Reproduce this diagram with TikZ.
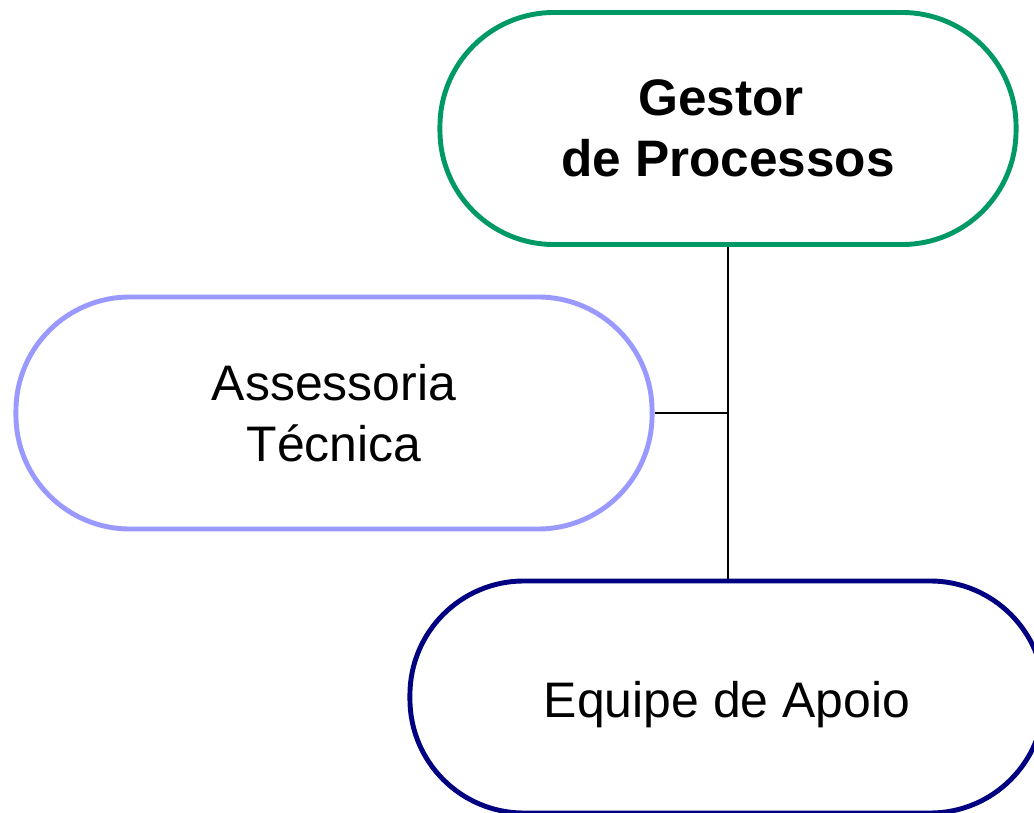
\documentclass[tikz,border=0pt]{standalone}
\usepackage{fontspec}
\setmainfont{Liberation Sans}
\usetikzlibrary{positioning,calc}

\definecolor{gestorgreen}{HTML}{009966}
\definecolor{assesslilac}{HTML}{9999FF}
\definecolor{apoionavy}{HTML}{000080}

\tikzset{
  pill/.style={draw, line width=3.5pt, fill=white, rounded corners=2.85cm,
               minimum height=5.8cm, align=center,
               font=\fontsize{35.5}{43}\selectfont},
  link/.style={draw, line width=1.3pt}
}

\begin{document}
\begin{tikzpicture}[x=0.025cm, y=-0.025cm]
        % keep the page the size of the reference
        \useasboundingbox (0,0) rectangle (1034,813);

        % the three boxes
        \node[pill, draw=gestorgreen, minimum width=14.4cm, font=\fontsize{36.5}{43}\selectfont\bfseries]
             (gestor) at (728,128.5) {Gestor\kern0.35cm\\de Processos};
        \node[pill, draw=assesslilac, minimum width=15.9cm]
             (assessoria) at (334,413) {Assessoria\\Técnica};
        \node[pill, draw=apoionavy, minimum width=15.85cm, text height=1.2cm, text depth=0.2cm]
             (apoio) at (727,697) {Equipe de Apoio};

        % and the lines between them
        \draw[link] (gestor.south) -- (gestor.south |- apoio.north);
        \draw[link] (assessoria.east) -- (assessoria.east -| gestor.south);
\end{tikzpicture}
\end{document}
